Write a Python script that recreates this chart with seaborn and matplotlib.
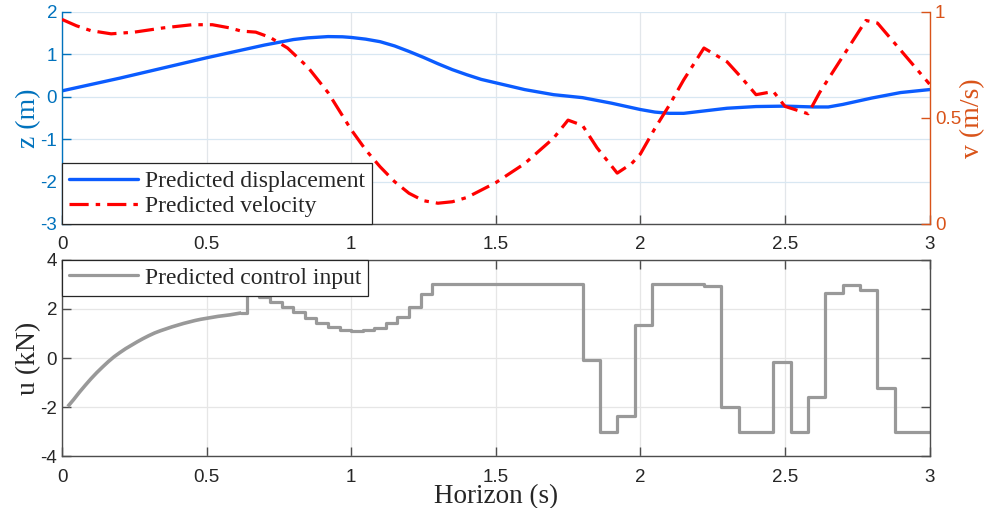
import numpy as np
import pandas as pd
import matplotlib
matplotlib.use("Agg")
import matplotlib.pyplot as plt
from matplotlib.ticker import FuncFormatter
import seaborn as sns

# ---------------- data ----------------
z_time = [0.0, 0.1, 0.2, 0.3, 0.4, 0.5, 0.6, 0.7, 0.8, 0.85, 0.92, 0.97, 1.0, 1.05, 1.1,
          1.15, 1.2, 1.25, 1.3, 1.35, 1.4, 1.45, 1.5, 1.6, 1.7, 1.8, 1.9, 2.0, 2.05,
          2.1, 2.15, 2.2, 2.3, 2.4, 2.5, 2.6, 2.65, 2.7, 2.8, 2.9, 3.0]
z_vals = [0.14, 0.29, 0.44, 0.60, 0.76, 0.92, 1.07, 1.22, 1.35, 1.39, 1.42, 1.415, 1.40, 1.36, 1.30,
          1.20, 1.07, 0.93, 0.78, 0.64, 0.52, 0.41, 0.33, 0.17, 0.05, -0.02, -0.15, -0.30, -0.36,
          -0.39, -0.39, -0.35, -0.27, -0.23, -0.22, -0.24, -0.24, -0.18, -0.03, 0.10, 0.17]

v_time = [0.0, 0.05, 0.1, 0.17, 0.25, 0.35, 0.45, 0.52, 0.58, 0.62, 0.67, 0.72, 0.78, 0.85,
          0.92, 1.0, 1.05, 1.1, 1.15, 1.2, 1.25, 1.3, 1.35, 1.4, 1.5, 1.6, 1.7, 1.75, 1.8,
          1.85, 1.92, 1.97, 2.0, 2.05, 2.1, 2.15, 2.22, 2.3, 2.35, 2.4, 2.46, 2.5, 2.58,
          2.62, 2.7, 2.78, 2.82, 2.9, 3.0]
v_vals = [0.965, 0.935, 0.912, 0.897, 0.905, 0.925, 0.94, 0.94, 0.925, 0.91, 0.905, 0.88, 0.83, 0.74,
          0.62, 0.445, 0.35, 0.27, 0.20, 0.145, 0.11, 0.098, 0.105, 0.125, 0.195, 0.285, 0.405, 0.49, 0.465,
          0.36, 0.24, 0.285, 0.33, 0.45, 0.56, 0.68, 0.83, 0.765, 0.69, 0.61, 0.625, 0.555, 0.52,
          0.62, 0.79, 0.96, 0.948, 0.82, 0.66]

# control input: finely sampled start (drawn as a thin-step curve) and coarse blocks (stairs)
u_fine_time = [0.02, 0.04, 0.06, 0.08, 0.10, 0.12, 0.14, 0.16, 0.18, 0.20, 0.22, 0.24, 0.26, 0.28,
               0.30, 0.32, 0.34, 0.36, 0.38, 0.40, 0.42, 0.44, 0.46, 0.48, 0.50, 0.52, 0.54, 0.56,
               0.58, 0.60, 0.62]
u_fine_vals = [-1.98, -1.70, -1.40, -1.12, -0.85, -0.60, -0.37, -0.15, 0.05, 0.22, 0.38, 0.52, 0.66, 0.79,
               0.91, 1.02, 1.11, 1.19, 1.27, 1.34, 1.41, 1.47, 1.53, 1.58, 1.62, 1.66, 1.70, 1.73,
               1.76, 1.80, 1.84]
u_step_time = [0.62, 0.64, 0.68, 0.72, 0.76, 0.80, 0.84, 0.88, 0.92, 0.96, 1.00, 1.04, 1.08, 1.12,
               1.16, 1.20, 1.24, 1.28,
               1.80, 1.86, 1.92, 1.98, 2.04, 2.22, 2.28, 2.34, 2.46, 2.52, 2.58, 2.64, 2.70, 2.76,
               2.82, 2.88, 3.00]
u_step_vals = [1.84, 2.60, 2.48, 2.30, 2.10, 1.88, 1.65, 1.44, 1.27, 1.16, 1.11, 1.14, 1.24, 1.42,
               1.68, 2.10, 2.60, 3.00,
               -0.07, -3.00, -2.35, 1.36, 3.00, 2.94, -2.00, -3.00, -0.16, -3.00, -1.59, 2.65, 2.99,
               2.79, -1.21, -3.00, -3.00]

x_ticks = [0, 0.5, 1, 1.5, 2, 2.5, 3]
z_ticks = [-3, -2, -1, 0, 1, 2]
v_ticks = [0, 0.5, 1]
u_ticks = [-4, -2, 0, 2, 4]

labels_top = ["Predicted displacement", "Predicted velocity"]
label_bottom = "Predicted control input"

# ---------------- style ----------------
sns.set_style("white")
plt.rcParams['font.family'] = ['Liberation Sans', 'DejaVu Sans']
plt.rcParams['axes.unicode_minus'] = False

BLUE_AX = '#0072BD'
ORANGE_AX = '#D95319'
LINE_BLUE = '#0b5cff'
LINE_RED = '#ff0000'
LINE_GRAY = '#999999'
DARK = '#4d4d4d'
SERIF = ['Liberation Serif', 'DejaVu Serif']
TICK_FS = 13.5

fmt = FuncFormatter(lambda v, p: '%g' % v)

fig = plt.figure(figsize=(9.84, 5.08), dpi=100)
ax1 = fig.add_axes([0.06301, 0.55906, 0.88161, 0.41732])
ax2 = ax1.twinx()
ax3 = fig.add_axes([0.06301, 0.10236, 0.88161, 0.38583])

df_z = pd.DataFrame({'t': z_time, 'z': z_vals})
df_v = pd.DataFrame({'t': v_time, 'v': v_vals})
df_uf = pd.DataFrame({'t': u_fine_time, 'u': u_fine_vals})
df_us = pd.DataFrame({'t': u_step_time, 'u': u_step_vals})

sns.lineplot(data=df_z, x='t', y='z', ax=ax1, color=LINE_BLUE, lw=2.4, estimator=None,
             legend=False)
sns.lineplot(data=df_v, x='t', y='v', ax=ax2, color=LINE_RED, lw=2.3, estimator=None,
             legend=False, linestyle=(0, (6.0, 2.2, 1.4, 2.2)))
sns.lineplot(data=df_us, x='t', y='u', ax=ax3, color=LINE_GRAY, lw=2.3, estimator=None,
             legend=False, drawstyle='steps-post')
sns.lineplot(data=df_uf, x='t', y='u', ax=ax3, color=LINE_GRAY, lw=2.6, estimator=None,
             legend=False, solid_capstyle='butt')

# ---------------- top axes ----------------
ax1.set_xlim(0, 3)
ax1.set_ylim(-3, 2)
ax2.set_ylim(0, 1)
ax1.set_xticks(x_ticks)
ax1.set_yticks(z_ticks)
ax2.set_yticks(v_ticks)
for a in (ax1, ax2, ax3):
    a.xaxis.set_major_formatter(fmt)
    a.yaxis.set_major_formatter(fmt)

ax1.xaxis.grid(True, color='#e2e6ea', lw=0.9)
ax1.yaxis.grid(True, color='#d8e7f2', lw=0.9)
ax1.set_axisbelow(True)
ax2.grid(False)

for s in ('top', 'right'):
    ax1.spines[s].set_visible(False)
for s in ('top', 'left', 'bottom'):
    ax2.spines[s].set_visible(False)
ax1.spines['left'].set_color(BLUE_AX)
ax1.spines['bottom'].set_color(DARK)
ax2.spines['right'].set_color(ORANGE_AX)
for s in ax1.spines.values():
    s.set_linewidth(1.0)
ax2.spines['right'].set_linewidth(1.0)

ax1.tick_params(axis='y', direction='in', length=6.3, width=1.0, colors=BLUE_AX,
                labelsize=TICK_FS, pad=3.5, left=True)
ax1.tick_params(axis='x', direction='in', length=6.3, width=1.0, color=DARK,
                labelcolor='#262626', labelsize=TICK_FS, pad=9, bottom=True)
ax2.tick_params(axis='y', direction='in', length=6.3, width=1.0, colors=ORANGE_AX,
                labelsize=TICK_FS, pad=4, right=True)

ax1.set_xlabel('')
ax1.set_ylabel('z (m)', fontfamily=SERIF, fontsize=20, color=BLUE_AX)
ax1.yaxis.set_label_coords(-0.039, 0.5)
ax1.yaxis.label.set_va('center')
ax2.set_xlabel('')
ax2.set_ylabel('v (m/s)', fontfamily=SERIF, fontsize=20, color=ORANGE_AX)
ax2.yaxis.set_label_coords(1.050, 0.5)
ax2.yaxis.label.set_va('center')

h1 = ax1.get_lines()[0]
h2 = ax2.get_lines()[0]
leg = ax2.legend([h1, h2], labels_top, loc='lower left', bbox_to_anchor=(0, 0),
                 borderaxespad=0, prop={'family': SERIF, 'size': 17}, fancybox=False,
                 framealpha=1, edgecolor='#262626', handlelength=2.9, handletextpad=0.3,
                 borderpad=0.3, labelspacing=0.15)
leg.get_frame().set_linewidth(0.9)

# ---------------- bottom axes ----------------
ax3.set_xlim(0, 3)
ax3.set_ylim(-4, 4)
ax3.set_xticks(x_ticks)
ax3.set_yticks(u_ticks)
ax3.grid(True, color='#e6e6e6', lw=0.9)
ax3.set_axisbelow(True)
for s in ax3.spines.values():
    s.set_visible(True)
    s.set_color(DARK)
    s.set_linewidth(1.0)
ax3.tick_params(axis='both', direction='in', length=6.3, width=1.0, color=DARK,
                labelcolor='#262626', labelsize=TICK_FS, top=True, right=True,
                bottom=True, left=True)
ax3.tick_params(axis='x', pad=9)
ax3.tick_params(axis='y', pad=3.5)

ax3.set_xlabel('Horizon (s)', fontfamily=SERIF, fontsize=19.5, color='#262626')
ax3.xaxis.set_label_coords(0.5, -0.205)
ax3.xaxis.label.set_va('center')
ax3.set_ylabel('u (kN)', fontfamily=SERIF, fontsize=20, color='#262626')
ax3.yaxis.set_label_coords(-0.039, 0.5)
ax3.yaxis.label.set_va('center')

h3 = ax3.get_lines()[0]
leg3 = ax3.legend([h3], [label_bottom], loc='upper left', bbox_to_anchor=(0, 1),
                  borderaxespad=0, prop={'family': SERIF, 'size': 17}, fancybox=False,
                  framealpha=1, edgecolor='#262626', handlelength=2.9, handletextpad=0.3,
                  borderpad=0.3, labelspacing=0.15)
leg3.get_frame().set_linewidth(0.9)

fig.savefig('out.png', dpi=100)
